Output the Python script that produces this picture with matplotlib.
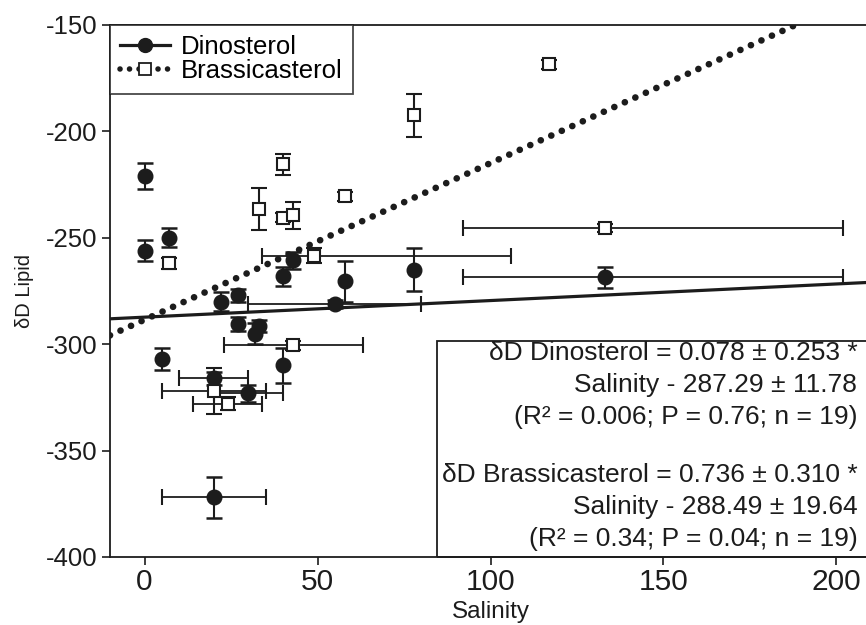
import numpy as np
import matplotlib.pyplot as plt
from matplotlib.lines import Line2D
from matplotlib.patches import Rectangle

plt.rcParams['font.family'] = ['Liberation Sans', 'DejaVu Sans']
plt.rcParams['axes.unicode_minus'] = False

INK = '#1c1c1c'

# Dinosterol (filled circles): salinity, dD and 1-sigma error
dino_sal = [0, 0, 7, 5, 20, 20, 22, 27, 27, 30, 32, 33, 40, 40, 43, 55, 58, 78, 133]
dino_dD = [-221, -256, -250, -307, -316, -372, -280, -277, -290.5, -323, -295, -291.5,
           -268, -310, -260.5, -281, -270.5, -265, -268.5]
dino_err = [6, 5, 4.5, 5, 3, 9.5, 4.5, 3, 3.5, 4, 5, 3, 4.5, 8, 4, 2, 9.5, 10, 5]
# salinity ranges, only for the samples that have them
dino_rng_idx = [4, 5, 9, 15, 18]
dino_sal_lo = [10, 5, 20, 30, 92]
dino_sal_hi = [30, 35, 40, 80, 202]

# Brassicasterol (open squares)
brass_sal = [7, 20, 24, 33, 40, 40, 43, 43, 49, 58, 78, 117, 133]
brass_dD = [-262, -322, -328, -236.5, -215.5, -240.5, -239.5, -300.5, -258.5, -230.5,
            -192.5, -168.5, -245.5]
brass_err = [2.5, 11, 3, 10, 5, 2, 6.5, 2, 3.5, 2, 10, 2, 2]
brass_rng_idx = [1, 2, 7, 8, 12]
brass_sal_lo = [5, 14, 23, 34, 92]
brass_sal_hi = [35, 34, 63, 106, 202]

# regression fits (slope, intercept)
dino_fit = (0.078, -287.29)
brass_fit = (0.736, -288.49)

fit_text_dino = ['\u03b4D Dinosterol = 0.078 \u00b1 0.253 *',
                 'Salinity - 287.29 \u00b1 11.78',
                 '(R\u00b2 = 0.006; P = 0.76; n = 19)']
fit_text_brass = ['\u03b4D Brassicasterol = 0.736 \u00b1 0.310 *',
                  'Salinity - 288.49 \u00b1 19.64',
                  '(R\u00b2 = 0.34; P = 0.04; n = 19)']

x_ticks = [0, 50, 100, 150, 200]
y_ticks = [-400, -350, -300, -250, -200, -150]


def range_err(sal, idx, lo, hi):
    x = np.array([sal[i] for i in idx], dtype=float)
    return x, np.vstack([x - np.array(lo), np.array(hi) - x])


fig = plt.figure(figsize=(8.66, 6.25), dpi=100)
ax = fig.add_axes([0.127, 0.1088, 0.8788, 0.8512])
ax.set_xlim(-10, 210)
ax.set_ylim(-400, -150)

# regression lines
xx = np.linspace(-10, 210, 200)
ax.plot(xx, dino_fit[0] * xx + dino_fit[1], color=INK, lw=2.3, zorder=2)
ax.plot(xx, brass_fit[0] * xx + brass_fit[1], color=INK, lw=4.8,
        linestyle=(0, (0.01, 1.72)), dash_capstyle='round', zorder=2)

# horizontal (salinity range) bars
xd, xd_err = range_err(dino_sal, dino_rng_idx, dino_sal_lo, dino_sal_hi)
yd = np.array([dino_dD[i] for i in dino_rng_idx])
ax.errorbar(xd, yd, xerr=xd_err, fmt='none', ecolor=INK, elinewidth=1.3,
            capsize=6, capthick=1.5, zorder=3)
xb, xb_err = range_err(brass_sal, brass_rng_idx, brass_sal_lo, brass_sal_hi)
yb = np.array([brass_dD[i] for i in brass_rng_idx])
ax.errorbar(xb, yb, xerr=xb_err, fmt='none', ecolor=INK, elinewidth=1.3,
            capsize=6, capthick=1.5, zorder=3)

# points with vertical error bars
ax.errorbar(dino_sal, dino_dD, yerr=dino_err, fmt='o', color=INK, mfc=INK, mec=INK,
            ms=10.5, elinewidth=1.5, capsize=6, capthick=1.8, zorder=4)
ax.errorbar(brass_sal, brass_dD, yerr=brass_err, fmt='s', color=INK, mfc='white',
            mec=INK, mew=1.5, ms=9, elinewidth=1.5, capsize=6, capthick=1.8, zorder=5)

ax.set_xticks(x_ticks)
ax.set_yticks(y_ticks)
ax.tick_params(direction='out', length=6, width=1.2, colors=INK)
ax.tick_params(axis='x', labelsize=21.5, pad=2)
ax.tick_params(axis='y', labelsize=18.5, pad=3)
for side in ['left', 'bottom', 'top']:
    ax.spines[side].set_linewidth(1.3)
    ax.spines[side].set_color(INK)
ax.spines['right'].set_visible(False)

ax.set_xlabel('Salinity', fontsize=17.5, color=INK)
ax.set_ylabel('\u03b4D Lipid', fontsize=14.5, color=INK)
ax.xaxis.set_label_coords(0.5, -0.082)
ax.yaxis.set_label_coords(-0.1, 0.5)

# legend
handles = [
    Line2D([], [], color=INK, lw=2.3, marker='o', ms=10, mfc=INK),
    Line2D([], [], color=INK, lw=4, linestyle=(0, (0.01, 1.7)), dash_capstyle='round',
           marker='s', ms=8, mfc='white', mec=INK, mew=1.3),
]
leg = ax.legend(handles, ['Dinosterol', 'Brassicasterol'], loc='upper left',
                bbox_to_anchor=(0, 1), borderaxespad=0, fontsize=18.5, fancybox=False,
                handlelength=1.95, handletextpad=0.4, borderpad=0.4, labelspacing=0.0)
leg.get_frame().set_edgecolor(INK)
leg.get_frame().set_linewidth(1.3)

# fit equations box
ax.add_patch(Rectangle((0.43, 0.0), 0.6, 0.406, transform=ax.transAxes, fill=False,
                       edgecolor=INK, lw=1.3, clip_on=False, zorder=1))
for k, line in enumerate(fit_text_dino):
    ax.text(0.982, 0.383 - k * 0.06, line, transform=ax.transAxes, ha='right',
            va='center', fontsize=19, color=INK)
for k, line in enumerate(fit_text_brass):
    ax.text(0.982, 0.154 - k * 0.06, line, transform=ax.transAxes, ha='right',
            va='center', fontsize=19, color=INK)

fig.savefig('out.png', dpi=100)
